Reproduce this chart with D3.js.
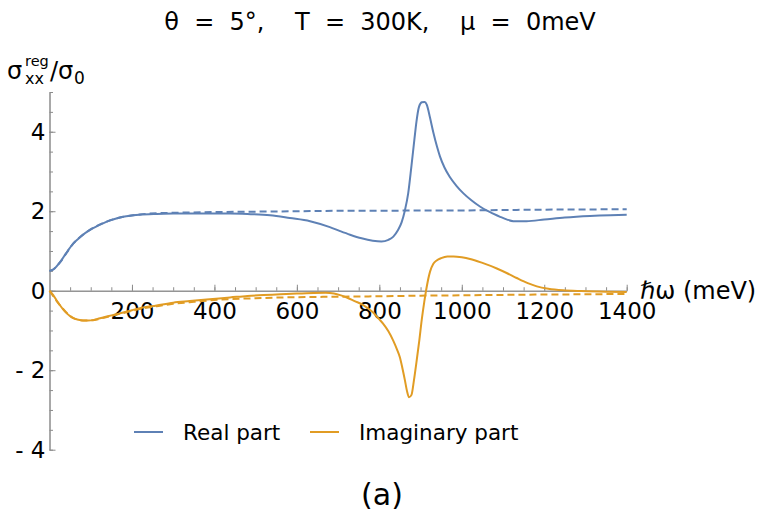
<!DOCTYPE html>
<html>
<head>
<meta charset="utf-8">
<script src="https://cdn.jsdelivr.net/npm/d3@7"></script>
<style>
    body { margin: 0; background: #fff; }
    svg { font-family: "DejaVu Sans", sans-serif; }
</style>
</head>
<body>
<div id="chart"></div>
<script>
// solid curves
let reX = [0, 10, 25, 40, 58, 78, 98, 120, 139, 160, 179, 200, 219, 260, 300, 350, 400, 438, 480, 535, 583, 632, 680, 705, 729, 757, 784, 805, 822, 834, 845, 854, 862, 870, 878, 885, 890, 896, 903, 910, 915, 923, 931, 940, 947, 958, 971, 987, 1004, 1024, 1044, 1060, 1076, 1093, 1110, 1125, 1140, 1157, 1200, 1250, 1311, 1360, 1400];
let reY = [0.5, 0.54, 0.71, 0.94, 1.19, 1.38, 1.53, 1.65, 1.74, 1.81, 1.86, 1.89, 1.91, 1.93, 1.94, 1.945, 1.94, 1.94, 1.93, 1.9, 1.83, 1.75, 1.6, 1.5, 1.41, 1.32, 1.26, 1.24, 1.28, 1.36, 1.52, 1.72, 2.02, 2.45, 3.15, 3.8, 4.25, 4.62, 4.74, 4.75, 4.68, 4.35, 3.98, 3.62, 3.38, 3.1, 2.86, 2.64, 2.45, 2.27, 2.12, 2.02, 1.94, 1.86, 1.79, 1.75, 1.745, 1.75, 1.79, 1.84, 1.88, 1.9, 1.91];

let imX = [0, 9, 17, 25, 33, 42, 50, 58, 70, 82, 94, 106, 120, 139, 159, 179, 200, 219, 260, 300, 340, 381, 438, 480, 519, 560, 600, 640, 670, 690, 705, 721, 740, 761, 785, 800, 810, 822, 834, 843, 850, 856, 862, 867, 872, 878, 884, 890, 897, 903, 909, 915, 923, 931, 939, 950, 965, 980, 1000, 1020, 1050, 1085, 1110, 1133, 1160, 1182, 1210, 1246, 1290, 1350, 1400];
let imY = [0, -0.11, -0.24, -0.36, -0.47, -0.57, -0.64, -0.69, -0.73, -0.75, -0.75, -0.74, -0.7, -0.65, -0.6, -0.55, -0.49, -0.44, -0.37, -0.3, -0.26, -0.22, -0.17, -0.13, -0.11, -0.09, -0.07, -0.055, -0.05, -0.07, -0.11, -0.17, -0.26, -0.36, -0.55, -0.72, -0.84, -1.02, -1.26, -1.48, -1.68, -1.95, -2.25, -2.52, -2.68, -2.62, -2.25, -1.8, -1.25, -0.72, -0.28, 0.1, 0.48, 0.68, 0.76, 0.82, 0.86, 0.86, 0.84, 0.8, 0.7, 0.56, 0.44, 0.32, 0.19, 0.11, 0.05, 0.01, -0.01, -0.025, -0.03];

// dashed curves
let reDashX = [0, 10, 25, 58, 98, 139, 179, 219, 260, 300, 400, 500, 600, 700, 800, 900, 1000, 1100, 1200, 1300, 1400];
let reDashY = [0.5, 0.54, 0.71, 1.19, 1.53, 1.74, 1.86, 1.92, 1.95, 1.96, 1.98, 1.99, 2.0, 2.01, 2.01, 2.02, 2.02, 2.03, 2.04, 2.045, 2.05];

let imDashX = [0, 25, 58, 82, 106, 139, 179, 219, 260, 300, 340, 381, 438, 500, 560, 620, 700, 800, 900, 1000, 1100, 1200, 1300, 1400];
let imDashY = [0, -0.36, -0.69, -0.75, -0.74, -0.66, -0.56, -0.46, -0.39, -0.33, -0.29, -0.25, -0.21, -0.19, -0.17, -0.16, -0.15, -0.14, -0.125, -0.115, -0.105, -0.095, -0.09, -0.08];

let xTicks = [200, 400, 600, 800, 1000, 1200, 1400];
let yTicks = [-4, -2, 0, 2, 4];
let legendLabels = ["Real part", "Imaginary part"];

let blue = "#5E81B5";
let orange = "#E19C24";

let width = 765, height = 521;

let svg = d3.select("#chart").append("svg")
    .attr("width", width)
    .attr("height", height);

let x = d3.scaleLinear()
    .domain([0, 1400])
    .range([49.5, 626.7]);
let y = d3.scaleLinear()
    .domain([-4, 5])
    .range([449.7, 92]);

// x axis (through y = 0), ticks point up
svg.append("g")
    .attr("transform", "translate(0," + y(0) + ")")
    .call(d3.axisBottom(x)
        .tickValues(d3.range(50, 1401, 50))
        .tickSizeInner(-3.5)
        .tickSizeOuter(0)
        .tickFormat(""));

svg.append("g")
    .attr("transform", "translate(0," + y(0) + ")")
    .call(d3.axisBottom(x)
        .tickValues(xTicks)
        .tickSizeInner(-6)
        .tickSizeOuter(0)
        .tickPadding(12)
        .tickFormat(d3.format("d")));

// y axis (through x = 0), ticks point right
svg.append("g")
    .attr("transform", "translate(" + x(0) + ",0)")
    .call(d3.axisLeft(y)
        .tickValues(d3.range(-4, 5.01, 0.5))
        .tickSizeInner(-3.5)
        .tickSizeOuter(0)
        .tickFormat(""));

svg.append("g")
    .attr("transform", "translate(" + x(0) + ",0)")
    .call(d3.axisLeft(y)
        .tickValues(yTicks)
        .tickSizeInner(-6)
        .tickSizeOuter(0)
        .tickPadding(4)
        .tickFormat(d => d < 0 ? "- " + Math.abs(d) : d));

svg.selectAll(".domain, .tick line")
    .style("stroke", "#8c8c8c")
    .style("stroke-width", 1);
svg.selectAll(".tick text")
    .style("font-family", "DejaVu Sans")
    .style("font-size", "23px")
    .style("fill", "#000")
    .style("white-space", "pre");

// curves
let line = d3.line()
    .x(d => x(d[0]))
    .y(d => y(d[1]))
    .curve(d3.curveMonotoneX);

let series = [
    {xs: reDashX, ys: reDashY, color: blue, dash: "7 4"},
    {xs: imDashX, ys: imDashY, color: orange, dash: "7 4"},
    {xs: reX, ys: reY, color: blue, dash: null},
    {xs: imX, ys: imY, color: orange, dash: null}
];

svg.selectAll("path.curve")
    .data(series)
    .enter()
    .append("path")
    .attr("class", "curve")
    .attr("d", s => line(s.xs.map((v, i) => [v, s.ys[i]])))
    .style("fill", "none")
    .style("stroke", s => s.color)
    .style("stroke-width", 2)
    .style("stroke-dasharray", s => s.dash);

// title
svg.append("text")
    .attr("x", 380)
    .attr("y", 30)
    .attr("text-anchor", "middle")
    .style("font-size", "24px")
    .style("white-space", "pre")
    .text("θ  =  5°,    T  =  300K,    μ  =  0meV");

// y axis label, one text with sub/superscripts
let yLab = svg.append("text")
    .attr("x", 7)
    .attr("y", 79)
    .style("font-size", "24px");
yLab.append("tspan").text("σ");
yLab.append("tspan").attr("x", 25).attr("dy", 5).style("font-size", "16px").text("xx");
yLab.append("tspan").attr("x", 25).attr("dy", -18.5).style("font-size", "14.5px").text("reg");
yLab.append("tspan").attr("x", 50).attr("dy", 13.5).text("/σ");
yLab.append("tspan").attr("x", 74).attr("dy", 5).style("font-size", "17px").text("0");

// x axis label
svg.append("text")
    .attr("x", 640)
    .attr("y", 299)
    .style("font-size", "24px")
    .text("ℏω (meV)");

// legend
let legendX = [134, 310];
let legend = svg.selectAll("g.legend")
    .data(legendLabels)
    .enter()
    .append("g")
    .attr("class", "legend")
    .attr("transform", (d, i) => "translate(" + legendX[i] + ",432)");

legend.append("line")
    .attr("x1", 0)
    .attr("x2", 29)
    .style("stroke", (d, i) => i === 0 ? blue : orange)
    .style("stroke-width", 2);

legend.append("text")
    .attr("x", 49)
    .attr("y", 8)
    .style("font-size", "21.5px")
    .text(d => d);

// panel label
svg.append("text")
    .attr("x", 382)
    .attr("y", 505)
    .attr("text-anchor", "middle")
    .style("font-size", "30px")
    .text("(a)");
</script>
</body>
</html>
